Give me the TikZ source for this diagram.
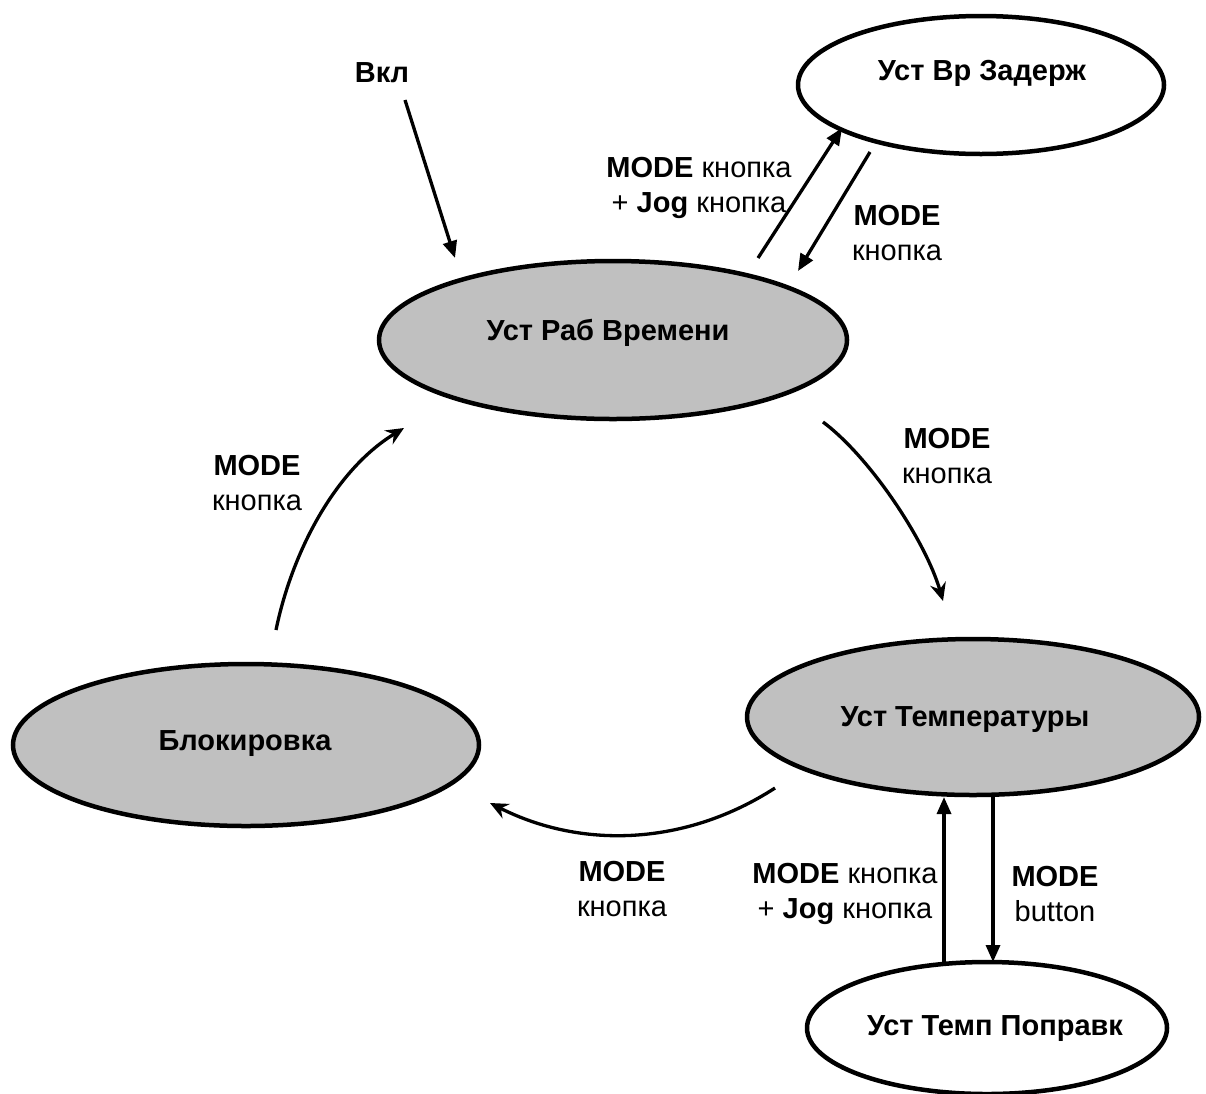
\documentclass[tikz,border=0pt]{standalone}
\usepackage{fontspec}
\setmainfont{Liberation Sans}
\usetikzlibrary{shapes.geometric,arrows.meta}
\definecolor{stategray}{RGB}{192,192,192}
\begin{document}
\begin{tikzpicture}[x=1pt,y=-1pt,
  state/.style={ellipse, draw, line width=4.5pt, inner sep=0pt},
  graystate/.style={state, fill=stategray},
  whitestate/.style={state, fill=white},
  stext/.style={inner sep=0pt, font=\fontsize{29}{34}\selectfont\bfseries},
  lbl/.style={align=center, inner sep=0pt, font=\fontsize{29}{35}\selectfont},
  arr/.style={line width=3.3pt, -{Triangle[length=17pt,width=14pt]}},
  carr/.style={line width=3.3pt, -{Stealth[length=18pt,width=16pt,inset=6pt]}}
]
\useasboundingbox (0,0) rectangle (1206,1093);

% states
\node[graystate, minimum width=468pt, minimum height=158pt] (rab) at (613,340) {};
\node[stext] (rabt) at (608,333) {Уст Раб Времени};
\node[whitestate, minimum width=366pt, minimum height=138pt] (zad) at (981,85) {};
\node[stext] (zadt) at (982,73) {Уст Вр Задерж};
\node[graystate, minimum width=452pt, minimum height=156pt] (temp) at (973,717) {};
\node[stext] (tempt) at (965,720) {Уст Температуры};
\node[graystate, minimum width=466pt, minimum height=162pt] (blok) at (246,745) {};
\node[stext] (blokt) at (245,744) {Блокировка};
\node[whitestate, minimum width=360pt, minimum height=132pt] (popr) at (987,1028) {};
\node[stext] (poprt) at (995,1029) {Уст Темп Поправк};

% free ends of connectors
\coordinate (vklS) at (405,100);
\coordinate (vklE) at (455,258);
\coordinate (upS) at (758,258);
\coordinate (upE) at (842,128);
\coordinate (dnS) at (870,152);
\coordinate (dnE) at (798,271);
\coordinate (rtS) at (823,422);
\coordinate (rtE) at (943,601);
\coordinate (btS) at (775,788);
\coordinate (btE) at (490,803);
\coordinate (lfS) at (276,630);
\coordinate (lfE) at (404,428);
\coordinate (v1S) at (944,963);
\coordinate (v1E) at (944,797);
\coordinate (v2S) at (993,797);
\coordinate (v2E) at (993,962);

% labels
\node[stext] (vkl) at (382,73) {Вкл};
\node[lbl] (l1) at (699,188) {\textbf{MODE} кнопка\\+ \textbf{Jog} кнопка};
\node[lbl] (l2) at (897,233) {\textbf{MODE}\\кнопка};
\node[lbl] (l3) at (947,456) {\textbf{MODE}\\кнопка};
\node[lbl] (l4) at (622,889) {\textbf{MODE}\\кнопка};
\node[lbl] (l5) at (257,483) {\textbf{MODE}\\кнопка};
\node[lbl] (l6) at (845,894) {\textbf{MODE} кнопка\\+ \textbf{Jog} кнопка};
\node[lbl] (l7) at (1055,894) {\textbf{MODE}\\button};

% connectors
\draw[arr] (vklS) -- (vklE);
\draw[arr] (upS) -- (upE);
\draw[arr] (dnS) -- (dnE);
\draw[carr] (rtS) .. controls (871,458) and (926,542) .. (rtE);
\draw[carr] (btS) .. controls (687,845) and (583,850) .. (btE);
\draw[carr] (lfS) .. controls (292,552) and (335,470) .. (lfE);
\draw[arr] (v1S) -- (v1E);
\draw[arr] (v2S) -- (v2E);
\end{tikzpicture}
\end{document}
